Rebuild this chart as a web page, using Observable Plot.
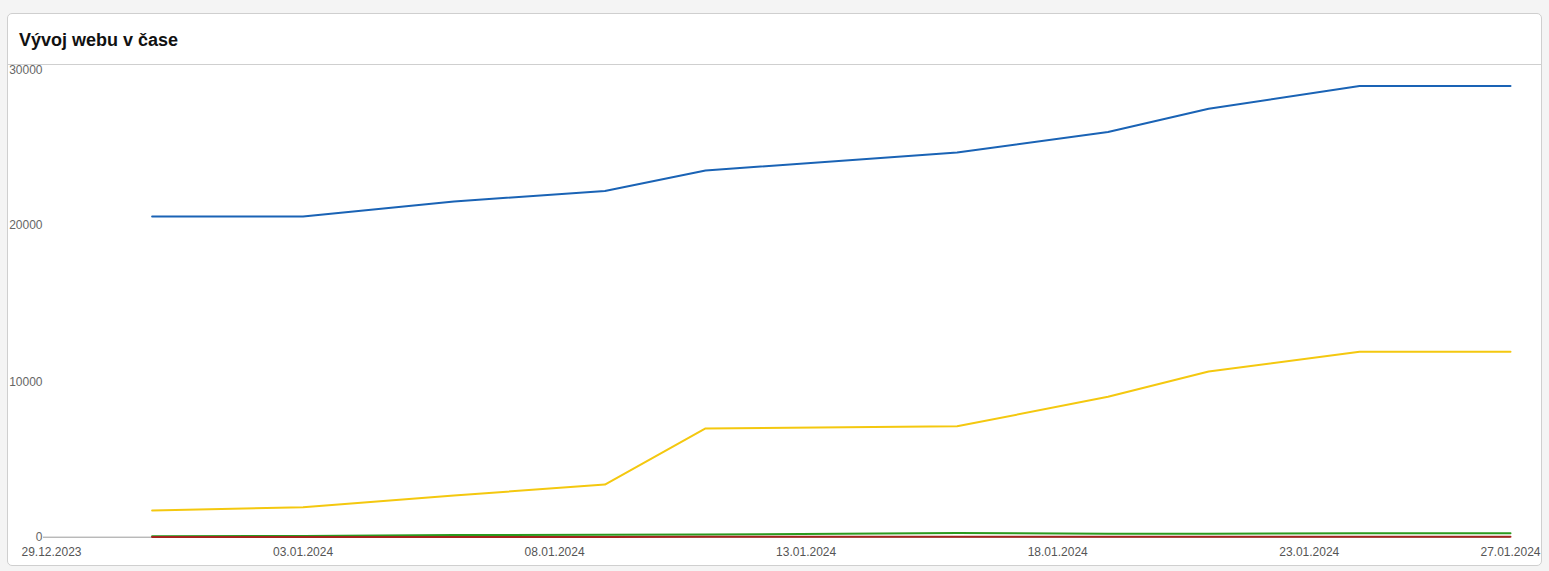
<!DOCTYPE html>
<html>
<head>
<meta charset="utf-8">
<script src="https://cdn.jsdelivr.net/npm/d3@7"></script>
<script src="https://cdn.jsdelivr.net/npm/@observablehq/plot@0.6"></script>
<style>
  html, body { margin: 0; padding: 0; background: #f4f4f4; width: 1549px; height: 571px; overflow: hidden; }
  .card { position: absolute; left: 7px; top: 13px; width: 1533px; height: 551px; background: #fff; border: 1px solid #cfcfcf; border-radius: 5px; overflow: hidden; }
  .head { height: 50px; border-bottom: 1px solid #cfcfcf; box-sizing: content-box; }
  .head h2 { margin: 0; padding: 16px 0 0 11px; font: bold 18px "Liberation Sans", Arial, sans-serif; color: #111; line-height: 20px; }
  #chart svg { display: block; }
</style>
</head>
<body>
<div class="card">
  <div class="head"><h2>Vývoj webu v čase</h2></div>
  <div id="chart"></div>
</div>
<script>
const dates = ["2023-12-31","2024-01-03","2024-01-06","2024-01-09","2024-01-11","2024-01-16","2024-01-19","2024-01-21","2024-01-24","2024-01-27"];
const seriesBlue   = [20400, 20400, 21350, 22020, 23320, 24460, 25770, 27250, 28690, 28690];
const seriesYellow = [1700, 1900, 2650, 3350, 6920, 7050, 8930, 10540, 11790, 11790];
const seriesGreen  = [60, 80, 140, 160, 170, 260, 220, 220, 250, 250];
const seriesRed    = [10, 15, 20, 20, 25, 30, 30, 30, 35, 35];
const seriesColors = ["#1a63b5", "#f4c80f", "#2b9a1e", "#a3241f"];
const xTicks = ["2023-12-29","2024-01-03","2024-01-08","2024-01-13","2024-01-18","2024-01-23","2024-01-27"];
const yTicks = [0, 10000, 20000, 30000];

const parse = d3.utcParse("%Y-%m-%d");
const fmt = d3.utcFormat("%d.%m.%Y");
const allSeries = [seriesBlue, seriesYellow, seriesGreen, seriesRed];
const rows = allSeries.map((vals, i) => dates.map((d, j) => ({date: parse(d), value: vals[j], s: i})));

const W = 1533, H = 500;
const chart = Plot.plot({
  width: W, height: H,
  marginLeft: 43, marginRight: 31, marginTop: 0, marginBottom: 28.3,
  style: {fontFamily: "'Liberation Sans', Arial, sans-serif", fontSize: "12px", overflow: "visible"},
  x: {type: "utc", domain: [parse(xTicks[0]), parse(xTicks[xTicks.length - 1])]},
  y: {domain: [0, 30000], axis: null},
  marks: [
    Plot.ruleY([0], {stroke: "#9a9a9a", strokeWidth: 1, insetLeft: -8}),
    ...rows.map((r, i) => Plot.line(r, {x: "date", y: "value", stroke: seriesColors[i], strokeWidth: 2})),
    Plot.axisX({ticks: xTicks.map(parse), tickFormat: fmt, tickSize: 0, tickPadding: 10, fill: "#555", fontSize: 12}),
    Plot.text([yTicks[3]], {y: d => d, text: d => String(d), frameAnchor: "left", dx: -9, dy: 5, textAnchor: "end", fill: "#666", fontSize: 12}),
    Plot.text([yTicks[1], yTicks[2]], {y: d => d, text: d => String(d), frameAnchor: "left", dx: -9, dy: 2, textAnchor: "end", fill: "#666", fontSize: 12}),
    Plot.text([yTicks[0]], {y: d => d, text: d => String(d), frameAnchor: "left", dx: -9, dy: 0, textAnchor: "end", fill: "#666", fontSize: 12})
  ]
});
document.getElementById("chart").appendChild(chart);
</script>
</body>
</html>
